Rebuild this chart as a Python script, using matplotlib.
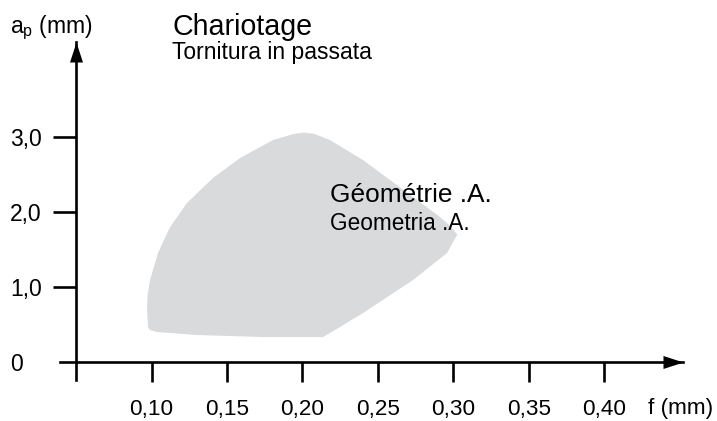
import numpy as np
import matplotlib.pyplot as plt

plt.rcParams['font.family'] = ['Liberation Sans', 'DejaVu Sans']

# working zone outline, f (mm) vs ap (mm)
zone_f = [0.1036, 0.0990, 0.0977, 0.0970, 0.0975, 0.0990, 0.1043, 0.1123, 0.1235,
          0.1407, 0.1586, 0.1805, 0.1940, 0.2010, 0.2080, 0.2182, 0.2401, 0.2732,
          0.2911, 0.2980, 0.3025, 0.2995, 0.2957, 0.2732, 0.2401, 0.2182, 0.2136,
          0.1738, 0.1301]
zone_ap = [0.400, 0.425, 0.467, 0.733, 0.900, 1.090, 1.453, 1.800, 2.120,
           2.453, 2.720, 2.960, 3.040, 3.060, 3.040, 2.960, 2.693, 2.200,
           1.933, 1.810, 1.700, 1.590, 1.453, 1.093, 0.653, 0.387, 0.333,
           0.333, 0.360]

x_ticks = [0.10, 0.15, 0.20, 0.25, 0.30, 0.35, 0.40]
x_labels = ['0,10', '0,15', '0,20', '0,25', '0,30', '0,35', '0,40']
y_ticks = [0, 1, 2, 3]
y_labels = ['0', '1,0', '2,0', '3,0']

W, H = 717, 421
fig = plt.figure(figsize=(W / 100, H / 100), dpi=100)
ax = fig.add_axes([60 / W, (H - 380) / H, (683 - 60) / W, (380 - 42) / H])
ax.set_xlim(0.0394, 0.452)
ax.set_ylim(-0.24, 4.267)

ax.fill(zone_f, zone_ap, color='#d9dadc', lw=0)

lw = 1.9
for s in ['top', 'right']:
    ax.spines[s].set_visible(False)
ax.spines['left'].set_position(('data', 0.05))
ax.spines['bottom'].set_position(('data', 0))
ax.spines['left'].set_linewidth(lw)
ax.spines['bottom'].set_linewidth(lw)

ax.set_xticks(x_ticks, x_labels, fontsize=16.2)
ax.tick_params(axis='x', direction='out', length=14.4, width=lw, pad=12)
ax.set_yticks(y_ticks, y_labels, fontsize=16.5)
ax.tick_params(axis='y', direction='out', length=16.5, width=lw, pad=31)
for lbl in ax.get_yticklabels():
    lbl.set_ha('left')
ax.yaxis.get_major_ticks()[0].tick1line.set_visible(False)

# arrow heads
arrow_x = [(0, 0), (-20, 6.5), (-20, -6.5)]
arrow_y = [(0, 0), (-6.5, -20), (6.5, -20)]
ax.plot([ax.get_xlim()[1]], [0], marker=arrow_x, ms=28.8, mew=0, color='k', clip_on=False)
ax.plot([0.05], [ax.get_ylim()[1]], marker=arrow_y, ms=28.8, mew=0, color='k', clip_on=False)

# texts
fig.text(10 / W, 1 - 33 / H, r'a$_\mathregular{p}$ (mm)', fontsize=16.5, va='baseline')
fig.text(172 / W, 1 - 35 / H, 'Chariotage', fontsize=20.6, va='baseline')
fig.text(172 / W, 1 - 59 / H, 'Tornitura in passata', fontsize=16.5, va='baseline')
fig.text(648 / W, 1 - 414 / H, 'f (mm)', fontsize=16.2, va='baseline')
ax.text(0.2182, 2.133, 'Géométrie .A.', fontsize=18.9, va='baseline')
ax.text(0.2182, 1.760, 'Geometria .A.', fontsize=16.3, va='baseline')

fig.savefig('out.png', dpi=100)
